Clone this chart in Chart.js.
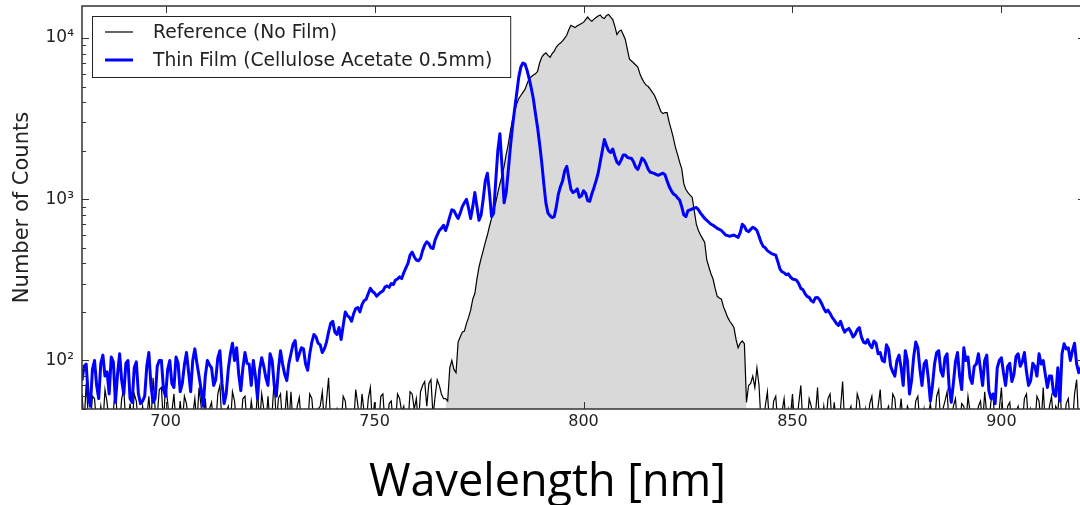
<!DOCTYPE html>
<html>
<head>
<meta charset="utf-8">
<script src="https://cdn.jsdelivr.net/npm/chart.js@4.4.1/dist/chart.umd.min.js"></script>
<style>
html, body { margin: 0; padding: 0; background: #fff; overflow: hidden; }
#Grafico1 { display: block; }
</style>
</head>
<body>
<canvas id="Grafico1" width="1088" height="505"></canvas>
<script>
// one value every 0.5 nm, from 680 nm to 920 nm (20 values per row = 10 nm)
const startNm = 680;
const stepNm = 0.5;
const refCounts = [
    62, 40, 72, 45, 40, 60, 58, 40, 40, 52, 40, 66, 55, 40, 40, 48, 70, 40, 40, 58,
    66, 40, 40, 54, 40, 62, 56, 40, 40, 52, 40, 44, 60, 40, 78, 50, 45, 66, 68, 40,
    72, 55, 40, 48, 62, 40, 40, 56, 40, 60, 54, 40, 40, 46, 58, 40, 68, 52, 40, 58,
    40, 50, 55, 40, 40, 62, 70, 40, 40, 48, 52, 40, 64, 56, 40, 44, 40, 58, 60, 40,
    40, 56, 45, 40, 66, 40, 62, 50, 40, 60, 40, 48, 76, 40, 58, 62, 40, 44, 65, 40,
    64, 40, 40, 52, 59, 40, 40, 48, 40, 62, 58, 40, 40, 50, 52, 64, 40, 56, 78, 40,
    40, 46, 50, 40, 40, 60, 56, 40, 40, 48, 40, 66, 53, 40, 62, 48, 40, 58, 68, 40,
    55, 40, 40, 60, 62, 40, 40, 54, 56, 40, 40, 62, 58, 48, 52, 40, 40, 64, 62, 50,
    58, 40, 64, 70, 74, 52, 72, 76, 45, 60, 76, 70, 62, 58, 58, 56, 90, 100, 88, 84,
    130, 140, 150, 152, 170, 185, 205, 240, 260, 320, 380, 430, 480, 540, 600, 680, 760, 860, 950, 1100,
    1250, 1400, 1600, 1900, 2200, 2650, 3100, 3450, 3900, 4200, 4400, 4600, 4800, 5200, 5600, 5750, 5900, 6000, 6200, 7000,
    7600, 7900, 8100, 7800, 7600, 8000, 8300, 8800, 9100, 9300, 9600, 10000, 10400, 11300, 12000, 11800, 11600, 11900, 12100, 12300,
    12500, 13000, 13500, 13000, 12700, 13100, 13400, 13700, 13900, 13400, 13200, 13800, 14000, 13500, 13000, 11800, 10500, 11000, 11200, 10500,
    9800, 8500, 7400, 7200, 7000, 6800, 6600, 6000, 5600, 5300, 5100, 5000, 4800, 4600, 4400, 4100, 3800, 3500, 3400, 3450,
    3450, 3000, 2700, 2400, 2100, 1900, 1700, 1550, 1250, 1150, 1100, 1060, 1030, 850, 700, 640, 600, 570, 540, 420,
    380, 345, 320, 280, 250, 244, 240, 215, 200, 185, 175, 168, 160, 135, 120, 128, 132, 127, 55, 70,
    72, 80, 68, 90, 70, 40, 40, 52, 64, 40, 40, 56, 60, 40, 40, 48, 58, 40, 50, 44,
    62, 40, 40, 54, 70, 40, 45, 40, 58, 52, 40, 46, 68, 40, 40, 52, 40, 58, 62, 40,
    55, 40, 40, 50, 74, 40, 40, 48, 52, 40, 40, 62, 56, 40, 40, 50, 40, 54, 60, 40,
    40, 52, 66, 40, 40, 48, 52, 40, 62, 58, 40, 44, 58, 40, 40, 52, 48, 40, 40, 56,
    60, 40, 40, 50, 40, 46, 54, 40, 40, 60, 66, 40, 50, 56, 64, 40, 40, 52, 58, 40,
    40, 54, 52, 40, 60, 48, 40, 40, 40, 52, 56, 40, 64, 46, 40, 56, 60, 40, 40, 50,
    68, 40, 40, 52, 55, 40, 40, 48, 52, 40, 40, 58, 62, 40, 50, 44, 40, 60, 56, 40,
    68, 40, 40, 52, 60, 40, 52, 48, 70, 40, 40, 54, 58, 40, 40, 62, 76, 40, 40, 55,
    40
];
const filmCounts = [
    75, 92, 95, 60, 52, 88, 100, 70, 58, 96, 108, 80, 85, 62, 105, 98, 55, 82, 110, 75,
    62, 96, 100, 58, 55, 90, 98, 62, 54, 56, 60, 92, 112, 70, 55, 58, 92, 100, 100, 66,
    60, 88, 100, 72, 68, 105, 96, 64, 72, 94, 112, 85, 64, 100, 118, 96, 80, 66, 52, 80,
    100, 94, 90, 70, 76, 104, 115, 72, 54, 62, 88, 110, 128, 100, 120, 82, 65, 90, 112, 96,
    95, 70, 100, 80, 58, 88, 104, 92, 78, 70, 110, 100, 70, 60, 88, 115, 95, 82, 75, 96,
    110, 126, 133, 100, 110, 120, 118, 95, 87, 110, 130, 145, 140, 128, 125, 112, 118, 130, 150, 170,
    175, 150, 145, 160, 135, 165, 200, 190, 185, 175, 195, 210, 213, 200, 222, 235, 240, 260, 280, 268,
    262, 250, 258, 265, 270, 285, 290, 284, 300, 296, 315, 320, 330, 322, 350, 375, 400, 450, 470, 440,
    420, 415, 430, 480, 520, 545, 530, 500, 495, 560, 600, 640, 660, 690, 640, 700, 780, 860, 850, 800,
    760, 820, 900, 950, 1000, 880, 760, 900, 1100, 900, 740, 800, 1000, 1300, 1450, 1100, 780, 820, 1300, 2000,
    2550, 1600, 950, 1100, 1500, 2100, 2800, 3600, 4500, 5700, 6600, 7000, 6900, 6300, 5600, 4900, 4200, 3400, 2800, 2200,
    1700, 1250, 950, 820, 790, 770, 780, 900, 1080, 1200, 1300, 1500, 1600, 1350, 1150, 1100, 1120, 1160, 1030, 1050,
    1130, 1090, 980, 970, 1080, 1180, 1300, 1450, 1700, 2000, 2350, 2150, 2000, 1950, 2050, 1850, 1700, 1650, 1750, 1880,
    1880, 1820, 1800, 1790, 1700, 1580, 1530, 1650, 1800, 1750, 1650, 1530, 1470, 1460, 1440, 1420, 1410, 1430, 1450, 1420,
    1300, 1200, 1130, 1080, 1060, 1020, 990, 900, 800, 780, 850, 860, 870, 880, 890, 860, 820, 790, 760, 740,
    720, 700, 690, 675, 660, 650, 640, 620, 600, 595, 590, 595, 600, 590, 580, 620, 700, 680, 640, 630,
    650, 670, 660, 640, 590, 540, 510, 500, 480, 470, 460, 455, 450, 410, 370, 355, 350, 340, 345, 330,
    320, 318, 314, 300, 280, 275, 260, 250, 246, 235, 230, 245, 246, 238, 225, 210, 200, 205, 196, 185,
    178, 170, 165, 175, 160, 150, 155, 158, 150, 140, 145, 155, 160, 140, 130, 128, 135, 125, 120, 132,
    128, 110, 112, 100, 98, 125, 118, 92, 85, 80, 100, 108, 90, 70, 115, 100, 62, 75, 105, 130,
    120, 88, 70, 95, 100, 78, 56, 70, 95, 112, 115, 86, 80, 104, 110, 68, 55, 72, 98, 112,
    80, 66, 120, 100, 105, 78, 72, 92, 95, 110, 88, 70, 100, 108, 65, 58, 62, 54, 90, 100,
    104, 84, 70, 92, 96, 74, 82, 106, 110, 92, 98, 112, 85, 70, 75, 96, 92, 80, 110, 95,
    100, 82, 68, 80, 80, 62, 60, 90, 56, 110, 127, 118, 120, 100, 115, 128, 95, 84, 90, 100,
    88
];
const fillFrom = 767;
const fillTo = 839;
const xTickStep = 50;
const yDecades = [100, 1000, 10000];
const superscripts = ['⁰', '¹', '²', '³', '⁴', '⁵'];
const legendLabels = ['Reference (No Film)', 'Thin Film (Cellulose Acetate 0.5mm)'];

let wavelengths = refCounts.map((v, i) => startNm + i * stepNm);
let refPoints = wavelengths.map((x, i) => ({x: x, y: refCounts[i]}));
let filmPoints = wavelengths.map((x, i) => ({x: x, y: filmCounts[i]}));
let fillPoints = refPoints.filter(p => p.x >= fillFrom && p.x <= fillTo);

let marco = {
    id: 'marco',
    afterDraw(chart) {
        let ctx = chart.ctx;
        let a = chart.chartArea;
        let sx = chart.scales.x;
        let sy = chart.scales.y;
        ctx.save();
        // inward ticks, matplotlib style
        ctx.strokeStyle = '#333';
        ctx.lineWidth = 1;
        ctx.beginPath();
        sx.ticks.forEach(t => {
            let px = Math.round(sx.getPixelForValue(t.value)) + 0.5;
            ctx.moveTo(px, a.bottom); ctx.lineTo(px, a.bottom - 7);
            ctx.moveTo(px, a.top); ctx.lineTo(px, a.top + 7);
        });
        sy.ticks.forEach(t => {
            let e = Math.log10(t.value);
            let s = t.value / Math.pow(10, Math.floor(e + 1e-9));
            if (Math.abs(s - Math.round(s)) > 1e-6) return;
            let len = Math.abs(s - 1) < 1e-6 ? 7 : 4;
            let py = Math.round(sy.getPixelForValue(t.value)) + 0.5;
            ctx.moveTo(a.left, py); ctx.lineTo(a.left + len, py);
            ctx.moveTo(a.right, py); ctx.lineTo(a.right - len, py);
        });
        ctx.stroke();
        ctx.lineWidth = 1.5;
        ctx.strokeStyle = '#333';
        ctx.strokeRect(a.left, a.top, a.right - a.left, a.bottom - a.top);

        // legend box
        let items = chart.data.datasets.filter(d => d.enLeyenda);
        ctx.font = '18.7px "DejaVu Sans"';
        let textW = Math.max(...items.map(d => ctx.measureText(d.label).width));
        let bx = a.left + 10, by = a.top + 10;
        let bw = 71 + textW + 8, bh = 61;
        ctx.fillStyle = '#fff';
        ctx.fillRect(bx, by, bw, bh);
        ctx.lineWidth = 1;
        ctx.strokeStyle = '#222';
        ctx.strokeRect(bx + 0.5, by + 0.5, bw, bh);
        items.forEach((d, i) => {
            let ly = by + 16 + i * 28;
            ctx.beginPath();
            ctx.strokeStyle = d.borderColor;
            ctx.lineWidth = d.borderWidth;
            ctx.moveTo(bx + 13, ly);
            ctx.lineTo(bx + 41, ly);
            ctx.stroke();
            ctx.fillStyle = '#222';
            ctx.textBaseline = 'middle';
            ctx.textAlign = 'left';
            ctx.fillText(d.label, bx + 61, ly + 1);
        });
        ctx.restore();
    }
};

let datos = {
    datasets: [
        {
            label: legendLabels[0],
            data: refPoints,
            borderColor: '#000000',
            borderWidth: 1.2,
            pointRadius: 0,
            fill: false,
            order: 1,
            clip: 0,
            enLeyenda: true
        },
        {
            label: legendLabels[1],
            data: filmPoints,
            borderColor: '#0000ff',
            borderWidth: 3,
            borderJoinStyle: 'round',
            pointRadius: 0,
            fill: false,
            order: 0,
            clip: 0,
            enLeyenda: true
        },
        {
            label: 'fill',
            data: fillPoints,
            borderColor: 'rgba(0,0,0,0)',
            backgroundColor: '#d9d9d9',
            pointRadius: 0,
            fill: 'start',
            order: 2,
            clip: 0,
            enLeyenda: false
        }
    ]
};

let opciones = {
    responsive: false,
    animation: false,
    events: [],
    layout: { padding: { left: 10, top: 6, right: 3, bottom: 0 } },
    plugins: {
        legend: { display: false },
        tooltip: { enabled: false },
        title: {
            display: true,
            position: 'bottom',
            text: 'Wavelength [nm]',
            color: '#000',
            font: { family: 'Open Sans', size: 45, weight: 'normal', lineHeight: 0.96 },
            padding: { top: 0, bottom: 0 }
        }
    },
    scales: {
        x: {
            type: 'linear',
            min: 680,
            max: 920,
            grid: { display: false, drawTicks: false },
            border: { display: false },
            afterBuildTicks: s => { s.ticks = s.ticks.filter(t => t.value % xTickStep === 0); },
            afterFit: s => { s.height = 505 - 45 * 0.96 - 409; s.paddingLeft = 0; s.paddingRight = 0; },
            ticks: {
                stepSize: xTickStep,
                padding: 3,
                color: '#222',
                font: { family: 'DejaVu Sans', size: 16 }
            }
        },
        y: {
            type: 'logarithmic',
            min: 50,
            max: 15800,
            grid: { display: false, drawTicks: false },
            border: { display: false },
            afterFit: s => { s.width = 72; s.paddingTop = 0; s.paddingBottom = 0; },
            ticks: {
                autoSkip: false,
                padding: 8,
                color: '#222',
                font: { family: 'DejaVu Sans', size: 17 },
                callback: v => yDecades.includes(v) ? '10' + superscripts[Math.round(Math.log10(v))] : ''
            },
            title: {
                display: true,
                text: 'Number of Counts',
                color: '#222',
                font: { family: 'DejaVu Sans', size: 21 },
                padding: 0
            }
        }
    }
};

let CanvasG1 = document.getElementById('Grafico1').getContext('2d');
let G1 = new Chart(CanvasG1, {
    type: 'line',
    data: datos,
    options: opciones,
    plugins: [marco]
});
</script>
</body>
</html>
